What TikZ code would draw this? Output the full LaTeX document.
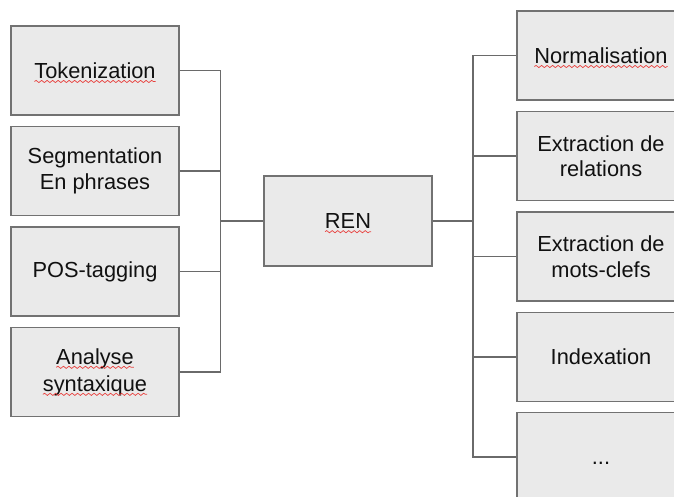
\documentclass[tikz,border=0pt]{standalone}
\usepackage{fontspec}
\setmainfont{Liberation Sans}
\usetikzlibrary{decorations.pathmorphing}

\definecolor{boxfill}{HTML}{EAEAEA}
\definecolor{boxline}{HTML}{727272}
\definecolor{wireline}{HTML}{6A6A6A}
\definecolor{spellred}{HTML}{E8423F}
\definecolor{ink}{HTML}{111111}

\tikzset{
  box/.style={rectangle, draw=boxline, fill=boxfill, line width=1.4pt,
    minimum width=168pt, minimum height=89pt, inner sep=0pt, align=center,
    text=ink, font=\fontsize{21.8}{25.5}\selectfont},
  wire/.style={draw=wireline, line width=1.3pt},
  spellline/.style={draw=spellred, line width=0.7pt,
    decorate, decoration={snake, segment length=5.5pt, amplitude=1.1pt}}
}

% word with a red wavy underline (the wave does not change the word's size)
\newcommand\spellmark[1]{\tikz[baseline=(sw.base)]{%
  \node[rectangle, draw=none, fill=none, inner sep=0pt, minimum size=0pt, outer sep=0pt] (sw) {#1};
  \draw[spellline, overlay] ([yshift=-3.2pt]sw.base west) -- ([yshift=-3.2pt]sw.base east);}}

\begin{document}
\begin{tikzpicture}[x=1pt, y=-1pt]
  \useasboundingbox (0,0) rectangle (674,497);
  \clip (0,0) rectangle (674,497);

  % preprocessing steps (left column)
  \node[box] (tok) at (95,70.5) {\spellmark{Tokenization}};
  \node[box] (seg) at (95,171) {Segmentation\\En phrases};
  \node[box] (pos) at (95,271.5) {POS-tagging};
  \node[box] (syn) at (95,372) {\spellmark{Analyse}\\[1.5pt]\spellmark{syntaxique}};

  % central task
  \node[box, minimum height=90pt] (ren) at (348,221) {\spellmark{REN}};

  % downstream tasks (right column)
  \node[box] (nor) at (601,55.5) {\spellmark{Normalisation}};
  \node[box] (rel) at (601,156) {Extraction de\\relations};
  \node[box] (mot) at (601,256.5) {Extraction de\\mots-clefs};
  \node[box] (idx) at (601,357) {Indexation};
  \node[box] (etc) at (601,457) {...\rule{0pt}{14pt}};

  % elbow connectors
  \coordinate (jl) at (220.5,221);
  \coordinate (jr) at (473,221);
  \foreach \n in {tok,seg,pos,syn} \draw[wire] (\n.east) -| (jl);
  \draw[wire] (jl) -- (ren.west);
  \draw[wire] (ren.east) -- (jr);
  \foreach \n in {nor,rel,mot,idx,etc} \draw[wire] (jr) |- (\n.west);
\end{tikzpicture}
\end{document}
